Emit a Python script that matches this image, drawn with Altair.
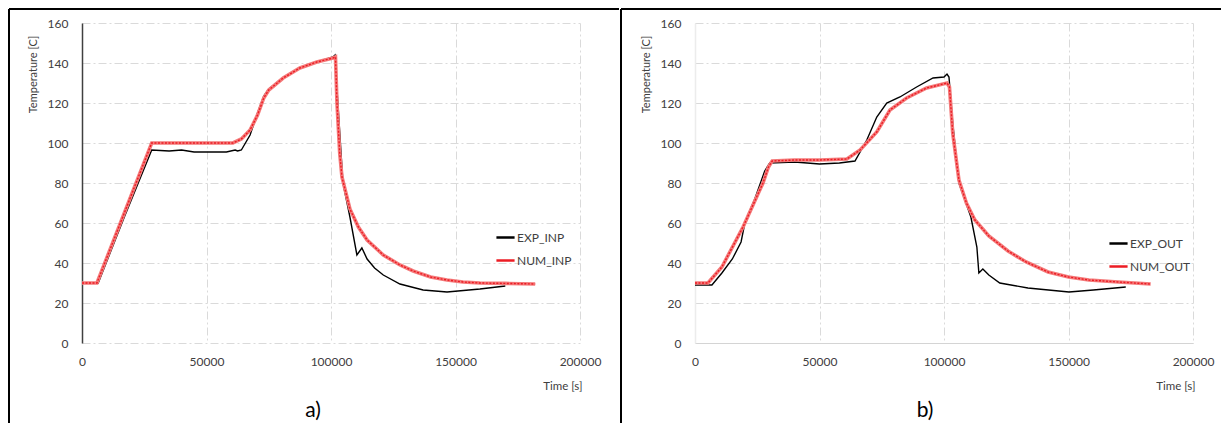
import altair as alt
import pandas as pd

# ---------------- data ----------------
# Panel a) inlet
exp_inp_time = [0, 6500, 17000, 28000, 35000, 40000, 45000, 50000, 58000, 61500, 62500, 64000,
                67500, 70500, 73000, 75000, 80800, 87500, 94300, 100800, 101600, 102500,
                104800, 107600, 110400, 112400, 114500, 117500, 121000, 127700, 137000, 146600,
                159800, 170000]
exp_inp_temp = [30, 30, 63, 96.5, 96, 96.5, 95.5, 95.5, 95.5, 96.5, 96, 96.5,
                104, 115, 123.5, 127, 132.5, 137.5, 140.5, 143, 144, 125,
                80, 63, 44, 47.5, 42, 37.5, 34, 29.5, 26.5, 25.5,
                27, 28.5]
num_inp_time = [0, 6000, 17000, 28000, 35000, 50000, 60600, 64000, 67500, 70500, 73000, 75000,
                80800, 87500, 94300, 100800, 101800, 102400, 103500, 104400, 107600, 111000,
                114500, 121000, 127700, 133000, 140000, 146600, 153000, 159800, 170000, 182000]
num_inp_temp = [30, 30, 65, 100, 100, 100, 100, 102, 106.5, 114, 122.5, 126.5,
                132.5, 137.5, 140.5, 142.5, 143, 120, 95, 83, 67, 58,
                51.5, 44, 39, 36, 33, 31.5, 30.5, 30, 29.8, 29.5]

# Panel b) outlet
exp_out_time = [0, 6800, 10800, 15000, 18500, 20100, 24000, 28000, 30000, 40000, 50000, 58000,
                64250, 69000, 73000, 77000, 82300, 89000, 95600, 100000, 101200, 102000,
                103500, 106000, 110800, 113200, 114000, 115600, 118000, 122400, 133700,
                150200, 160000, 173000]
exp_out_temp = [29, 29, 35, 42, 50.5, 60.5, 72, 86, 90, 90.5, 89.5, 90,
                91, 101.5, 113, 120, 123, 128, 132.5, 133, 134.5, 133,
                110, 80, 63, 48, 35, 37, 34, 30, 27.5,
                25.5, 26.5, 28]
num_out_time = [0, 5200, 10800, 19300, 27300, 29500, 31000, 40000, 50000, 61000, 66300, 73000,
                78300, 85000, 93000, 101200, 102200, 103500, 106000, 109000, 112400, 118000,
                125700, 133000, 141800, 150000, 158200, 170000, 183000]
num_out_temp = [30, 30, 38, 58, 80, 88, 91, 91.5, 91.5, 92, 96.5, 105.5,
                116.5, 122.5, 127.5, 130, 128, 105, 81.5, 70, 61.5, 53.5,
                46, 40.5, 35.5, 33, 31.5, 30.5, 29.5]

series_a = ["EXP_INP", "NUM_INP"]
series_b = ["EXP_OUT", "NUM_OUT"]
captions = ["a)", "b)"]
x_ticks = [0, 50000, 100000, 150000, 200000]
y_ticks = [0, 20, 40, 60, 80, 100, 120, 140, 160]
x_title = "Time [s]"
y_title = "Temperature [C]"

FONT = "Lato"
TXT = "#404040"
W, H = 498, 320


def panel(exp_t, exp_v, num_t, num_v, names, caption, border_x, right_x,
          ydom_color, xdom, legend_y, cap_x):
    exp_df = pd.DataFrame({"t": exp_t, "v": exp_v, "series": names[0]})
    num_df = pd.DataFrame({"t": num_t, "v": num_v, "series": names[1]})

    x = alt.X("t:Q", scale=alt.Scale(domain=[0, 200000], nice=False),
              axis=alt.Axis(values=x_ticks, format="d", title=x_title, grid=True,
                            gridColor="#dadada", gridDash=[8, 3, 2, 3], ticks=False,
                            domain=xdom, domainColor="#d4d4d4", domainWidth=1.2,
                            labelFont=FONT, labelFontSize=12, labelColor=TXT,
                            labelPadding=13, labelFlush=False, labelOverlap=False,
                            titleFont=FONT, titleFontSize=11.5, titleFontWeight="normal",
                            titleColor=TXT, titleX=500, titleY=43, titleAlign="right",
                            titleBaseline="middle", titleAngle=0))
    y = alt.Y("v:Q", scale=alt.Scale(domain=[0, 160], nice=False),
              axis=alt.Axis(values=y_ticks, title=y_title, grid=True,
                            gridColor="#dadada", gridDash=[8, 3, 2, 3], ticks=False,
                            domainColor=ydom_color, domainWidth=1.5,
                            labelFont=FONT, labelFontSize=12, labelColor=TXT,
                            labelPadding=14,
                            titleFont=FONT, titleFontSize=11, titleFontWeight="normal",
                            titleColor=TXT, titleX=-49, titleY=51, titleAngle=270,
                            titleAlign="center", titleBaseline="middle"))
    color = alt.Color("series:N",
                      scale=alt.Scale(domain=names, range=["#000000", "#ec1c24"]),
                      legend=alt.Legend(title=None, orient="none", legendX=413,
                                        legendY=legend_y, symbolType="stroke",
                                        symbolStrokeWidth=2.5, symbolSize=330,
                                        labelFont=FONT, labelFontSize=12, labelColor=TXT,
                                        labelOffset=1, rowPadding=6, padding=0))

    exp_line = alt.Chart(exp_df).mark_line(strokeWidth=1.4).encode(x=x, y=y, color=color)
    num_base = alt.Chart(num_df).mark_line(strokeWidth=3.6, color="#f47a7a").encode(x=x, y=y)
    num_top = alt.Chart(num_df).mark_line(strokeWidth=1.4, strokeDash=[2, 1.5]).encode(
        x=x, y=y, color=color)

    one = pd.DataFrame({"k": [0]})
    vborder = alt.Chart(one).mark_rule(color="black", strokeWidth=2).encode(
        x=alt.value(border_x), y=alt.value(-14), y2=alt.value(400))
    tborder = alt.Chart(one).mark_rule(color="black", strokeWidth=2).encode(
        x=alt.value(border_x), x2=alt.value(right_x), y=alt.value(-14))
    cap = alt.Chart(pd.DataFrame({"c": [caption]})).mark_text(
        font=FONT, fontSize=21, color="black", baseline="middle").encode(
        x=alt.value(cap_x), y=alt.value(388), text="c:N")

    return alt.layer(exp_line, num_base, num_top, vborder, tborder, cap).properties(
        width=W, height=H)


left = panel(exp_inp_time, exp_inp_temp, num_inp_time, num_inp_temp, series_a, captions[0],
             border_x=-73, right_x=537, ydom_color="#404040", xdom=False,
             legend_y=204, cap_x=231)
right = panel(exp_out_time, exp_out_temp, num_out_time, num_out_temp, series_b, captions[1],
              border_x=-74, right_x=526, ydom_color="#ececec", xdom=True,
              legend_y=210, cap_x=230)

chart = alt.hconcat(left, right, spacing=0).resolve_scale(
    color="independent").resolve_legend(color="independent").properties(
    padding=0, background="white").configure_view(strokeWidth=0)

chart.save("out.html", embed_options={"renderer": "svg", "actions": False})
